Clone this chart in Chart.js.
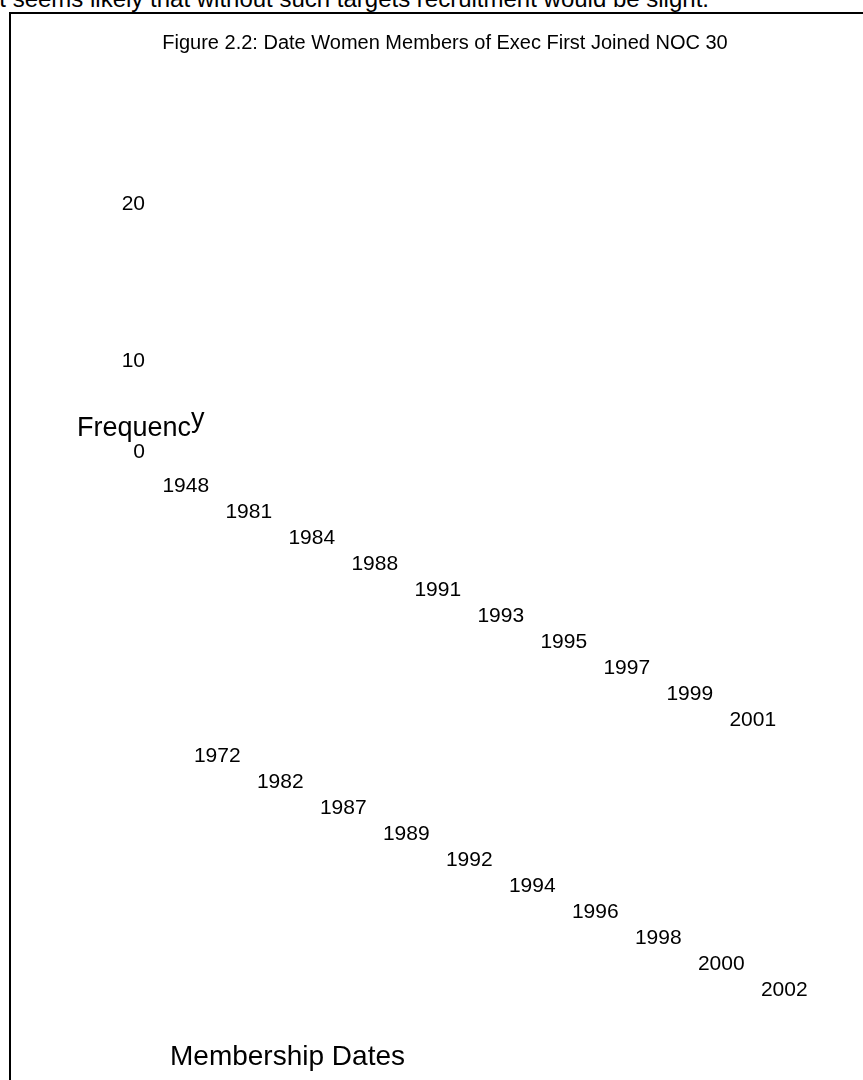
<!DOCTYPE html>
<html>
<head>
<meta charset="utf-8">
<script src="https://cdn.jsdelivr.net/npm/chart.js@4.4.1/dist/chart.umd.min.js"></script>
<style>
  html, body { margin: 0; padding: 0; background: #fff; }
  body { position: relative; width: 863px; height: 1080px; overflow: hidden; font-family: "Liberation Sans", Arial, sans-serif; color: #000; }
  #lead { position: absolute; left: -6px; top: -13px; font-size: 24px; line-height: 1; white-space: nowrap; }
  #frame { position: absolute; left: 9px; top: 12px; right: -20px; bottom: -20px; border-left: 2px solid #000; border-top: 2px solid #000; }
  #ylab { position: absolute; left: 77px; top: 414px; font-size: 27px; line-height: 1; white-space: nowrap; }
  #ylab span { position: relative; top: -9px; }
  #c { position: absolute; left: 0; top: 0; }
</style>
</head>
<body>
<div id="lead">it seems likely that without such targets recruitment would be slight.</div>
<div id="frame"></div>
<canvas id="c" width="863" height="1080"></canvas>
<div id="ylab">Frequenc<span>y</span></div>
<script>
// categories (membership year first joined)
var years = ['1948','1972','1981','1982','1984','1987','1988','1989','1991','1992',
             '1993','1994','1995','1996','1997','1998','1999','2000','2001','2002'];
// y axis
var yTicks = [0, 10, 20, 30];
var yMax = 30;
// bars did not come out in the reference, so nothing to plot
var frequency = [];

var FONT = '"Liberation Sans", Arial, sans-serif';
Chart.defaults.color = '#000';
Chart.defaults.font.family = FONT;

// labels drop one line per step, every other year on its own row
function stagger(label, n) {
    var lines = [];
    for (var k = 0; k < n; k++) lines.push('');
    lines.push(label);
    return lines;
}

var tickFont = {family: FONT, size: 21, lineHeight: '26px'};

var ctx = document.getElementById('c').getContext('2d');
var chart = new Chart(ctx, {
    type: 'bar',
    data: {
        labels: years,
        datasets: [{
            label: 'Frequency',
            data: frequency,
            backgroundColor: '#000',
            xAxisID: 'x',
            yAxisID: 'y'
        }]
    },
    options: {
        responsive: false,
        animation: false,
        layout: {padding: {left: 90, right: 63, top: 0, bottom: 0}},
        plugins: {
            legend: {display: false},
            tooltip: {enabled: false},
            title: {
                display: true,
                text: 'Figure 2.2: Date Women Members of Exec First Joined NOC 30',
                font: {family: FONT, size: 20, weight: 'normal'},
                color: '#000',
                padding: {top: 31, bottom: -8}
            }
        },
        scales: {
            x: {
                type: 'category',
                position: 'bottom',
                weight: 0,
                offset: true,
                grid: {display: false, drawTicks: false},
                border: {display: false},
                ticks: {
                    autoSkip: false, minRotation: 0, maxRotation: 0,
                    // mirrored so the first rows can start above the axis line without clipping
                    mirror: true,
                    padding: 19,
                    font: tickFont,
                    callback: function(v, i) { return i % 2 === 0 ? stagger(years[i], i / 2) : ''; }
                },
                afterFit: function(s) { s.height = 225; }
            },
            x2: {
                type: 'category',
                position: 'bottom',
                weight: 1,
                offset: true,
                grid: {display: false, drawTicks: false},
                border: {display: false},
                ticks: {
                    autoSkip: false, minRotation: 0, maxRotation: 0,
                    padding: 0,
                    font: tickFont,
                    callback: function(v, i) { return i % 2 === 1 ? stagger(years[i], (i - 1) / 2) : ''; }
                },
                title: {
                    display: true,
                    text: 'Membership Dates',
                    align: 'start',
                    font: {family: FONT, size: 28},
                    padding: {top: 0, bottom: 6}
                },
                afterFit: function(s) { s.height = 337; }
            },
            y: {
                type: 'linear',
                position: 'left',
                min: yTicks[0],
                max: yMax,
                grid: {display: false, drawTicks: false},
                border: {display: false},
                afterBuildTicks: function(s) { s.ticks = yTicks.map(function(v) { return {value: v}; }); },
                ticks: {
                    autoSkip: false,
                    padding: 25,
                    font: function(c) {
                        // the 0 sits well above its gridline in the reference
                        if (c.tick && c.tick.value === 0) return {family: FONT, size: 21, lineHeight: '132px'};
                        return {family: FONT, size: 21};
                    },
                    callback: function(v) {
                        if (v === yMax) return '';   // printed after the title instead
                        if (v === 0) return ['0', ''];
                        return String(v);
                    }
                },
                afterFit: function(s) { s.width = 80; }
            }
        }
    }
});
</script>
</body>
</html>
